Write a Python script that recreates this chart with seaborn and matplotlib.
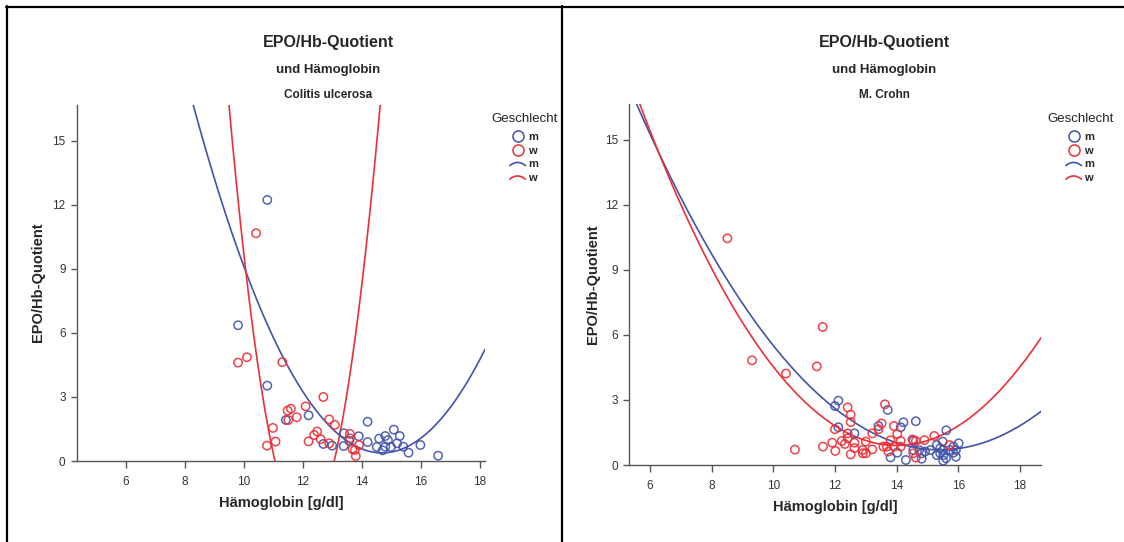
import numpy as np
import pandas as pd
import matplotlib
matplotlib.use("Agg")
import matplotlib.pyplot as plt
from matplotlib.lines import Line2D
from matplotlib.legend_handler import HandlerBase
import seaborn as sns

# ---- Colitis ulcerosa: Hb [g/dl] vs EPO/Hb quotient ----
cu_m_hb = [10.79, 9.80, 10.79, 11.42, 12.19, 12.69, 12.99, 13.38, 13.39, 13.57,
           13.89, 14.19, 14.19, 14.50, 14.58, 14.70, 14.79, 14.79, 14.88, 14.98,
           15.08, 15.19, 15.28, 15.40, 15.58, 15.98, 16.58]
cu_m_q = [12.23, 6.36, 3.53, 1.92, 2.14, 0.80, 0.72, 0.70, 1.30, 0.95,
          1.16, 1.84, 0.89, 0.66, 1.05, 0.50, 1.17, 0.67, 0.98, 0.66,
          1.47, 0.83, 1.17, 0.67, 0.39, 0.75, 0.25]
cu_w_hb = [10.41, 9.80, 10.10, 11.30, 12.69, 12.09, 11.59, 11.48, 11.50, 11.79,
           12.89, 13.08, 10.98, 10.78, 11.07, 12.19, 12.38, 12.48, 12.60, 12.89,
           13.59, 13.59, 13.68, 13.76, 13.79, 13.90]
cu_w_q = [10.67, 4.61, 4.86, 4.63, 3.00, 2.56, 2.45, 2.36, 1.92, 2.05,
          1.95, 1.69, 1.55, 0.72, 0.91, 0.92, 1.22, 1.38, 1.02, 0.83,
          1.27, 1.06, 0.55, 0.52, 0.23, 0.75]

# ---- M. Crohn ----
mc_m_hb = [12.11, 12.00, 13.71, 13.41, 14.22, 14.62, 14.13, 15.61, 12.11, 12.63,
           13.80, 14.02, 14.30, 14.54, 14.54, 14.81, 14.81, 14.92, 15.10, 15.30,
           15.30, 15.41, 15.49, 15.51, 15.51, 15.51, 15.60, 15.73, 15.84, 15.92,
           15.92, 16.01, 15.84, 15.41, 14.73]
mc_m_q = [2.97, 2.72, 2.54, 1.80, 1.97, 2.02, 1.74, 1.60, 1.74, 1.46,
          0.35, 0.57, 0.23, 0.69, 1.12, 0.29, 0.54, 0.62, 0.69, 0.92,
          0.46, 0.77, 1.08, 0.69, 0.45, 0.20, 0.31, 0.69, 0.57, 0.38,
          0.69, 1.00, 0.85, 0.54, 0.69]
mc_w_hb = [8.51, 11.60, 9.31, 10.41, 11.41, 10.70, 11.61, 12.00, 11.91, 12.01,
           12.41, 12.51, 12.51, 12.41, 12.41, 12.22, 12.32, 12.63, 12.63, 12.51,
           12.90, 12.90, 13.00, 13.00, 13.21, 13.21, 13.41, 13.51, 13.62, 13.57,
           13.68, 13.73, 13.91, 14.02, 14.13, 14.13, 13.91, 14.51, 14.62, 14.54,
           14.62, 14.90, 15.22, 15.71, 13.80]
mc_w_q = [10.46, 6.37, 4.83, 4.22, 4.55, 0.71, 0.85, 1.65, 1.03, 0.65,
          2.66, 2.32, 1.98, 1.46, 1.23, 1.11, 0.97, 1.03, 0.78, 0.49,
          0.69, 0.54, 1.08, 0.54, 1.46, 0.72, 1.65, 1.92, 2.80, 0.85,
          0.85, 0.62, 1.80, 1.43, 1.11, 0.85, 0.85, 1.18, 1.11, 0.54,
          0.34, 1.15, 1.34, 0.92, 1.14]

# Quadratic fit lines, vertex form q = a * (hb - h)^2 + k
cu_m_fit = (0.398, 14.68, 0.38)
cu_w_fit = (3.00, 12.055, -3.03)
mc_m_fit = (0.165, 15.40, 0.70)
mc_w_fit = (0.227, 14.00, 0.90)

sexes = ["m", "w"]
colors = {"m": "#4153aa", "w": "#ec2f35"}
y_ticks = [0, 3, 6, 9, 12, 15]
x_ticks = [6, 8, 10, 12, 14, 16, 18]

titles = ["EPO/Hb-Quotient", "und Hämoglobin"]
subtitles = ["Colitis ulcerosa", "M. Crohn"]

sns.set_style("white")
plt.rcParams["font.family"] = ["Liberation Sans", "DejaVu Sans"]

W, H = 1124, 542
fig = plt.figure(figsize=(W / 100, H / 100), dpi=100)


def fx(px):
    return px / W


def fy(py):
    return 1 - py / H


panels = [
    dict(rect=[fx(76.7), fy(461), fx(485 - 76.7), (461 - 104.5) / H], xlim=(4.33, 18.17),
         ylim=(0, 16.7), pts={"m": (cu_m_hb, cu_m_q), "w": (cu_w_hb, cu_w_q)},
         fits={"m": cu_m_fit, "w": cu_w_fit}, cx=328, leg_x=525,
         xlab_y=503, ylab_x=38),
    dict(rect=[fx(629.3), fy(465), fx(1041 - 629.3), (465 - 104) / H], xlim=(5.33, 18.68),
         ylim=(0, 16.66), pts={"m": (mc_m_hb, mc_m_q), "w": (mc_w_hb, mc_w_q)},
         fits={"m": mc_m_fit, "w": mc_w_fit}, cx=884, leg_x=1081,
         xlab_y=507, ylab_x=593),
]


class ArcHandler(HandlerBase):
    """Legend handle drawn as a small arch, like a fitted curve."""

    def create_artists(self, legend, orig_handle, xdescent, ydescent, width, height,
                       fontsize, trans):
        t = np.linspace(-1, 1, 20)
        xs = (t + 1) / 2 * width
        ys = height * 0.2 + (1 - t ** 2) * height * 0.4
        line = Line2D(xs, ys, color=orig_handle.get_color(), lw=orig_handle.get_linewidth())
        line.set_transform(trans)
        return [line]


spine_col = "#555555"
for i, p in enumerate(panels):
    ax = fig.add_axes(p["rect"])
    # fitted curves
    grid = np.linspace(p["xlim"][0], p["xlim"][1], 400)
    rows = []
    for s in sexes:
        a, h, k = p["fits"][s]
        rows.append(pd.DataFrame({"Hb": grid, "Q": a * (grid - h) ** 2 + k, "sex": s}))
    curves = pd.concat(rows, ignore_index=True)
    sns.lineplot(data=curves, x="Hb", y="Q", hue="sex", palette=colors, sort=False,
                 legend=False, lw=1.2, ax=ax, zorder=3)
    # observations
    for s in sexes:
        xs, ys = p["pts"][s]
        df = pd.DataFrame({"Hb": xs, "Q": ys})
        sns.scatterplot(data=df, x="Hb", y="Q", color=colors[s], facecolors="none",
                        edgecolor=colors[s], linewidth=1.1, s=36, alpha=0.9, ax=ax,
                        zorder=4)
    ax.set_xlim(*p["xlim"])
    ax.set_ylim(*p["ylim"])
    ax.set_xticks(x_ticks)
    ax.set_yticks(y_ticks)
    ax.set_xlabel("Hämoglobin [g/dl]", fontsize=10.5, fontweight="bold")
    ax.set_ylabel("EPO/Hb-Quotient", fontsize=10.5, fontweight="bold")
    l, b, w, h = p["rect"]
    ax.xaxis.set_label_coords(l + w / 2, fy(p["xlab_y"]), transform=fig.transFigure)
    ax.yaxis.set_label_coords(fx(p["ylab_x"]), b + h / 2, transform=fig.transFigure)
    ax.xaxis.label.set_va("center")
    ax.yaxis.label.set_va("center")
    for side in ["top", "right"]:
        ax.spines[side].set_visible(False)
    for side in ["left", "bottom"]:
        ax.spines[side].set_color(spine_col)
        ax.spines[side].set_linewidth(1.0)
    ax.tick_params(axis="both", direction="out", length=4, width=1, color=spine_col,
                   labelsize=8.5, labelcolor="#333333", left=True, bottom=True, pad=4)
    ax.tick_params(axis="x", length=5, pad=6)

    # headings
    fig.text(fx(p["cx"]), fy(42), titles[0], ha="center", va="center",
             fontsize=11.5, fontweight="bold")
    fig.text(fx(p["cx"]), fy(70), titles[1], ha="center", va="center",
             fontsize=9.5, fontweight="bold")
    fig.text(fx(p["cx"]), fy(95), subtitles[i], ha="center", va="center",
             fontsize=8.5, fontweight="bold")

    # legend
    fig.text(fx(p["leg_x"]), fy(119), "Geschlecht", ha="center", va="center",
             fontsize=9.5, color="#222222")
    handles = [Line2D([], [], ls="none", marker="o", ms=8, mfc="none", mec=colors[s], mew=1.1)
               for s in sexes]
    handles += [Line2D([], [], color=colors[s], lw=1.2) for s in sexes]
    labels = sexes + sexes
    arc_map = {h: ArcHandler() for h in handles[2:]}
    leg = fig.legend(handles, labels, loc="upper center",
                     bbox_to_anchor=(fx(p["leg_x"] - 1), fy(132)), frameon=False,
                     fontsize=8, handlelength=1.4, handletextpad=0.25,
                     labelspacing=0.32, borderaxespad=0, borderpad=0, handler_map=arc_map)
    for t in leg.get_texts():
        t.set_fontweight("bold")

# frame lines around the panels
for xs, ys in [([6, W], [7, 7]), ([7, 7], [6, H]), ([562, 562], [6, H])]:
    fig.add_artist(Line2D([fx(x) for x in xs], [fy(y) for y in ys], color="black",
                          lw=1.6, transform=fig.transFigure))

fig.savefig("out.png", dpi=100)
